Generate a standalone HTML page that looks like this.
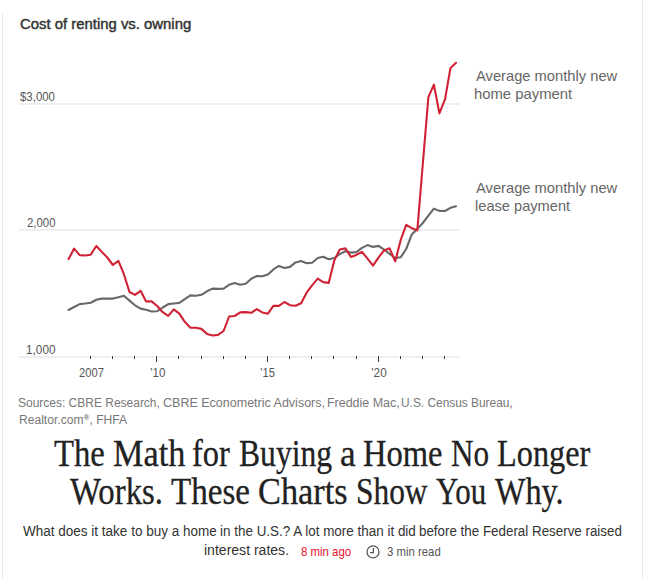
<!DOCTYPE html>
<html><head><meta charset="utf-8">
<style>
html,body{margin:0;padding:0;background:#fff;}
body{width:645px;height:578px;position:relative;overflow:hidden;font-family:"Liberation Sans",sans-serif;}
.a{position:absolute;white-space:nowrap;line-height:1;transform-origin:0 0;}
.bl{position:absolute;left:2px;top:14px;width:1px;height:564px;background:#e6e6e6;}
.br{position:absolute;left:642px;top:0;width:1px;height:578px;background:#e8e8e8;}
</style></head><body>
<div class="bl"></div><div class="br"></div>
<svg class="a" style="left:0;top:0" width="645" height="578" viewBox="0 0 645 578">
<rect x="19" y="103" width="441" height="2" fill="#efefef"/>
<rect x="19" y="229" width="441" height="2" fill="#efefef"/>
<rect x="19" y="356" width="441" height="2" fill="#efefef"/>
<line x1="90.5" y1="355.5" x2="90.5" y2="359" stroke="#fff" stroke-width="3"/><line x1="90.5" y1="356" x2="90.5" y2="359" stroke="#333" stroke-width="1"/><line x1="112.5" y1="355.5" x2="112.5" y2="359" stroke="#fff" stroke-width="3"/><line x1="112.5" y1="356" x2="112.5" y2="359" stroke="#333" stroke-width="1"/><line x1="134.5" y1="355.5" x2="134.5" y2="359" stroke="#fff" stroke-width="3"/><line x1="134.5" y1="356" x2="134.5" y2="359" stroke="#333" stroke-width="1"/><line x1="156.5" y1="355.5" x2="156.5" y2="362" stroke="#fff" stroke-width="3"/><line x1="156.5" y1="356" x2="156.5" y2="362" stroke="#333" stroke-width="1"/><line x1="178.5" y1="355.5" x2="178.5" y2="359" stroke="#fff" stroke-width="3"/><line x1="178.5" y1="356" x2="178.5" y2="359" stroke="#333" stroke-width="1"/><line x1="201.5" y1="355.5" x2="201.5" y2="359" stroke="#fff" stroke-width="3"/><line x1="201.5" y1="356" x2="201.5" y2="359" stroke="#333" stroke-width="1"/><line x1="223.5" y1="355.5" x2="223.5" y2="359" stroke="#fff" stroke-width="3"/><line x1="223.5" y1="356" x2="223.5" y2="359" stroke="#333" stroke-width="1"/><line x1="245.5" y1="355.5" x2="245.5" y2="359" stroke="#fff" stroke-width="3"/><line x1="245.5" y1="356" x2="245.5" y2="359" stroke="#333" stroke-width="1"/><line x1="267.5" y1="355.5" x2="267.5" y2="362" stroke="#fff" stroke-width="3"/><line x1="267.5" y1="356" x2="267.5" y2="362" stroke="#333" stroke-width="1"/><line x1="289.5" y1="355.5" x2="289.5" y2="359" stroke="#fff" stroke-width="3"/><line x1="289.5" y1="356" x2="289.5" y2="359" stroke="#333" stroke-width="1"/><line x1="311.5" y1="355.5" x2="311.5" y2="359" stroke="#fff" stroke-width="3"/><line x1="311.5" y1="356" x2="311.5" y2="359" stroke="#333" stroke-width="1"/><line x1="333.5" y1="355.5" x2="333.5" y2="359" stroke="#fff" stroke-width="3"/><line x1="333.5" y1="356" x2="333.5" y2="359" stroke="#333" stroke-width="1"/><line x1="356.5" y1="355.5" x2="356.5" y2="359" stroke="#fff" stroke-width="3"/><line x1="356.5" y1="356" x2="356.5" y2="359" stroke="#333" stroke-width="1"/><line x1="378.5" y1="355.5" x2="378.5" y2="362" stroke="#fff" stroke-width="3"/><line x1="378.5" y1="356" x2="378.5" y2="362" stroke="#333" stroke-width="1"/><line x1="400.5" y1="355.5" x2="400.5" y2="359" stroke="#fff" stroke-width="3"/><line x1="400.5" y1="356" x2="400.5" y2="359" stroke="#333" stroke-width="1"/><line x1="422.5" y1="355.5" x2="422.5" y2="359" stroke="#fff" stroke-width="3"/><line x1="422.5" y1="356" x2="422.5" y2="359" stroke="#333" stroke-width="1"/><line x1="444.5" y1="355.5" x2="444.5" y2="359" stroke="#fff" stroke-width="3"/><line x1="444.5" y1="356" x2="444.5" y2="359" stroke="#333" stroke-width="1"/>
<polyline points="68.6,310.0 74.1,307.0 79.7,304.1 85.2,303.5 90.7,302.7 96.3,299.8 101.8,298.6 107.3,298.6 112.9,298.6 118.4,297.2 123.9,295.8 129.5,300.6 135.0,305.3 140.6,308.6 146.1,309.7 151.6,311.5 157.2,311.2 162.7,307.5 168.2,304.1 173.8,303.5 179.3,302.9 184.8,299.1 190.4,295.4 195.9,295.7 201.4,294.8 207.0,291.3 212.5,288.6 218.0,288.9 223.6,288.6 229.1,284.8 234.7,282.9 240.2,284.8 245.7,283.7 251.3,278.7 256.8,276.0 262.3,276.3 267.9,274.6 273.4,269.4 278.9,265.9 284.5,268.0 290.0,266.9 295.5,262.4 301.1,261.1 306.6,263.2 312.1,262.7 317.7,258.0 323.2,256.8 328.7,259.3 334.3,258.0 339.8,254.1 345.4,251.3 350.9,252.6 356.4,252.1 362.0,247.9 367.5,245.1 373.0,246.9 378.6,245.9 384.1,249.7 389.6,253.8 395.2,258.0 400.7,257.3 406.2,249.0 411.8,234.4 417.3,228.9 422.8,223.0 428.4,215.6 433.9,208.6 439.4,210.9 445.0,211.0 450.5,207.8 456.0,206.2" fill="none" stroke="#686868" stroke-width="2.1" stroke-linejoin="round" stroke-linecap="round"/>
<polyline points="68.6,259.0 74.1,248.6 79.7,255.1 85.2,255.5 90.7,254.8 96.3,246.0 101.8,251.9 107.3,257.5 112.9,265.0 118.4,260.8 123.9,274.2 129.5,292.0 135.0,294.9 140.6,290.8 146.1,301.4 151.6,301.4 157.2,306.0 162.7,312.2 168.2,315.9 173.8,309.4 179.3,313.7 184.8,321.8 190.4,327.7 195.9,327.7 201.4,328.9 207.0,333.9 212.5,335.5 218.0,334.9 223.6,331.0 229.1,316.5 234.7,316.0 240.2,312.4 245.7,312.1 251.3,312.8 256.8,309.1 262.3,312.4 267.9,313.7 273.4,305.9 278.9,305.9 284.5,302.0 290.0,305.2 295.5,305.8 301.1,303.2 306.6,292.7 312.1,285.3 317.7,278.6 323.2,282.1 328.7,282.9 334.3,260.4 339.8,249.5 345.4,248.4 350.9,256.9 356.4,254.9 362.0,251.8 367.5,258.7 373.0,265.6 378.6,257.3 384.1,250.4 389.6,248.3 395.2,261.4 400.7,240.0 406.2,224.8 411.8,228.2 417.3,230.3 422.8,164.0 428.4,97.1 433.9,84.6 439.4,113.4 445.0,99.4 450.5,67.9 456.0,62.8" fill="none" stroke="#cf2335" stroke-width="2.1" stroke-linejoin="round" stroke-linecap="round"/>
<g fill="none" stroke="#555" stroke-width="1.25"><circle cx="373" cy="551.9" r="6.0"/><path d="M373.4 548.1V552.5H370.1"/></g>
</svg>
<div id="title" class="a" style="left:20.10px;top:15.60px;font-family:'Liberation Sans',sans-serif;font-size:15px;font-weight:normal;color:#333;transform:scaleX(0.9919);-webkit-text-stroke:0.45px #333;">Cost of renting vs. owning</div>
<div id="y3" class="a" style="left:19.51px;top:90.90px;font-family:'Liberation Sans',sans-serif;font-size:12px;font-weight:normal;color:#555;transform:scaleX(0.9523);">$3,000</div>
<div id="y2" class="a" style="left:26.98px;top:217.22px;font-family:'Liberation Sans',sans-serif;font-size:12px;font-weight:normal;color:#555;transform:scaleX(0.9485);">2,000</div>
<div id="y1" class="a" style="left:25.97px;top:344.01px;font-family:'Liberation Sans',sans-serif;font-size:12px;font-weight:normal;color:#555;transform:scaleX(0.9824);">1,000</div>
<div id="x07" class="a" style="left:78.53px;top:366.81px;font-family:'Liberation Sans',sans-serif;font-size:12px;font-weight:normal;color:#555;transform:scaleX(0.9324);">2007</div>
<div id="x10" class="a" style="left:149.99px;top:366.81px;font-family:'Liberation Sans',sans-serif;font-size:12px;font-weight:normal;color:#555;transform:scaleX(0.9646);">’10</div>
<div id="x15" class="a" style="left:260.05px;top:366.72px;font-family:'Liberation Sans',sans-serif;font-size:12px;font-weight:normal;color:#555;transform:scaleX(0.9299);">’15</div>
<div id="x20" class="a" style="left:371.00px;top:366.72px;font-family:'Liberation Sans',sans-serif;font-size:12px;font-weight:normal;color:#555;transform:scaleX(0.9814);">’20</div>
<div id="l1a" class="a" style="left:475.50px;top:68.60px;font-family:'Liberation Sans',sans-serif;font-size:14.5px;font-weight:normal;color:#666;transform:scaleX(1.0145);">Average monthly new</div>
<div id="l1b" class="a" style="left:474.46px;top:86.60px;font-family:'Liberation Sans',sans-serif;font-size:14.5px;font-weight:normal;color:#666;transform:scaleX(1.0233);">home payment</div>
<div id="l2a" class="a" style="left:475.50px;top:180.60px;font-family:'Liberation Sans',sans-serif;font-size:14.5px;font-weight:normal;color:#666;transform:scaleX(1.0145);">Average monthly new</div>
<div id="l2b" class="a" style="left:474.50px;top:198.60px;font-family:'Liberation Sans',sans-serif;font-size:14.5px;font-weight:normal;color:#666;transform:scaleX(1.0086);">lease payment</div>
<div id="s1a" class="a" style="left:18.20px;top:396.91px;font-family:'Liberation Sans',sans-serif;font-size:12px;font-weight:normal;color:#777;transform:scaleX(0.9986);">Sources: CBRE Research,</div>
<div id="s1b" class="a" style="left:162.60px;top:396.91px;font-family:'Liberation Sans',sans-serif;font-size:12px;font-weight:normal;color:#777;transform:scaleX(1.0426);">CBRE Econometric Advisors,</div>
<div id="s1c" class="a" style="left:327.15px;top:396.91px;font-family:'Liberation Sans',sans-serif;font-size:12px;font-weight:normal;color:#777;transform:scaleX(1.0383);">Freddie Mac,</div>
<div id="s1d" class="a" style="left:400.81px;top:396.91px;font-family:'Liberation Sans',sans-serif;font-size:12px;font-weight:normal;color:#777;transform:scaleX(0.9910);">U.S. Census Bureau,</div>
<div id="s2" class="a" style="left:18.99px;top:414.01px;font-family:'Liberation Sans',sans-serif;font-size:12px;font-weight:normal;color:#777;transform:scaleX(1.0077);">Realtor.com<span style="font-size:8px;vertical-align:4px;font-weight:bold">®</span>, FHFA</div>
<div id="h1_0" class="a" style="left:54.37px;top:434.60px;font-family:'Liberation Serif',serif;font-size:37px;font-weight:normal;color:#222;transform:scaleX(0.8845);-webkit-text-stroke:0.3px #222;">The</div>
<div id="h1_1" class="a" style="left:113.05px;top:434.60px;font-family:'Liberation Serif',serif;font-size:37px;font-weight:normal;color:#222;transform:scaleX(0.9258);-webkit-text-stroke:0.3px #222;">Math</div>
<div id="h1_2" class="a" style="left:192.10px;top:434.60px;font-family:'Liberation Serif',serif;font-size:37px;font-weight:normal;color:#222;transform:scaleX(0.8760);-webkit-text-stroke:0.3px #222;">for</div>
<div id="h1_3" class="a" style="left:239.04px;top:434.60px;font-family:'Liberation Serif',serif;font-size:37px;font-weight:normal;color:#222;transform:scaleX(0.8548);-webkit-text-stroke:0.3px #222;">Buying</div>
<div id="h1_4" class="a" style="left:340.26px;top:434.60px;font-family:'Liberation Serif',serif;font-size:37px;font-weight:normal;color:#222;transform:scaleX(0.9537);-webkit-text-stroke:0.3px #222;">a</div>
<div id="h1_5" class="a" style="left:363.45px;top:434.60px;font-family:'Liberation Serif',serif;font-size:37px;font-weight:normal;color:#222;transform:scaleX(0.8800);-webkit-text-stroke:0.3px #222;">Home</div>
<div id="h1_6" class="a" style="left:451.11px;top:434.60px;font-family:'Liberation Serif',serif;font-size:37px;font-weight:normal;color:#222;transform:scaleX(0.8414);-webkit-text-stroke:0.3px #222;">No</div>
<div id="h1_7" class="a" style="left:496.85px;top:434.60px;font-family:'Liberation Serif',serif;font-size:37px;font-weight:normal;color:#222;transform:scaleX(0.8729);-webkit-text-stroke:0.3px #222;">Longer</div>
<div id="h2_0" class="a" style="left:70.08px;top:472.81px;font-family:'Liberation Serif',serif;font-size:37px;font-weight:normal;color:#222;transform:scaleX(0.8866);-webkit-text-stroke:0.3px #222;">Works.</div>
<div id="h2_1" class="a" style="left:171.42px;top:472.81px;font-family:'Liberation Serif',serif;font-size:37px;font-weight:normal;color:#222;transform:scaleX(0.8944);-webkit-text-stroke:0.3px #222;">These</div>
<div id="h2_2" class="a" style="left:258.04px;top:472.81px;font-family:'Liberation Serif',serif;font-size:37px;font-weight:normal;color:#222;transform:scaleX(0.9275);-webkit-text-stroke:0.3px #222;">Charts</div>
<div id="h2_3" class="a" style="left:356.23px;top:472.81px;font-family:'Liberation Serif',serif;font-size:37px;font-weight:normal;color:#222;transform:scaleX(0.8483);-webkit-text-stroke:0.3px #222;">Show</div>
<div id="h2_4" class="a" style="left:435.89px;top:472.81px;font-family:'Liberation Serif',serif;font-size:37px;font-weight:normal;color:#222;transform:scaleX(0.8355);-webkit-text-stroke:0.3px #222;">You</div>
<div id="h2_5" class="a" style="left:495.07px;top:472.81px;font-family:'Liberation Serif',serif;font-size:37px;font-weight:normal;color:#222;transform:scaleX(0.8720);-webkit-text-stroke:0.3px #222;">Why.</div>
<div id="d1a" class="a" style="left:23.21px;top:523.71px;font-family:'Liberation Sans',sans-serif;font-size:14px;font-weight:normal;color:#333;transform:scaleX(0.9650);">What does it take to buy a home</div>
<div id="d1b" class="a" style="left:220.04px;top:523.71px;font-family:'Liberation Sans',sans-serif;font-size:14px;font-weight:normal;color:#333;transform:scaleX(0.9604);">in the U.S.? A lot more than it did</div>
<div id="d1c" class="a" style="left:418.64px;top:523.71px;font-family:'Liberation Sans',sans-serif;font-size:14px;font-weight:normal;color:#333;transform:scaleX(0.9550);">before the Federal Reserve raised</div>
<div id="d2" class="a" style="left:203.50px;top:543.31px;font-family:'Liberation Sans',sans-serif;font-size:14px;font-weight:normal;color:#333;transform:scaleX(1.0026);">interest rates.</div>
<div id="d3" class="a" style="left:300.54px;top:545.81px;font-family:'Liberation Sans',sans-serif;font-size:12.2px;font-weight:normal;color:#e8102b;transform:scaleX(0.9360);">8 min ago</div>
<div id="d4" class="a" style="left:386.52px;top:545.81px;font-family:'Liberation Sans',sans-serif;font-size:12.2px;font-weight:normal;color:#555;transform:scaleX(0.9329);">3 min read</div>
</body></html>
